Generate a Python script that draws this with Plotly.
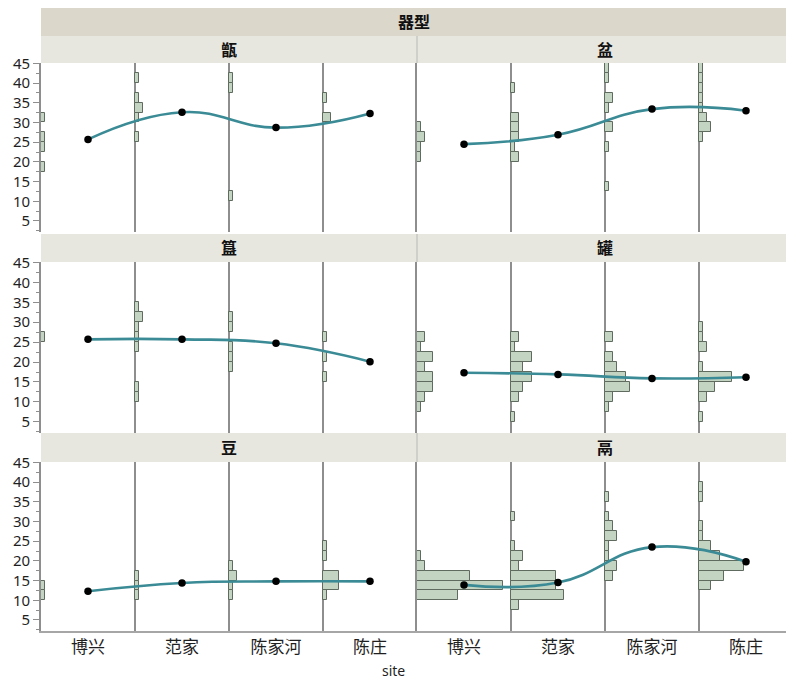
import plotly.graph_objects as go

# ---------------- data ----------------
sites = ["博兴", "范家", "陈家河", "陈庄"]
vessel_types = ["甑", "盆", "簋", "罐", "豆", "鬲"]
group_title = "器型"
x_title = "site"

# histogram bins (lower edges), width 2.5
bin_lows = [5, 7.5, 10, 12.5, 15, 17.5, 20, 22.5, 25, 27.5, 30, 32.5, 35, 37.5, 40, 42.5]
bin_width = 2.5
y_ticks = [5, 10, 15, 20, 25, 30, 35, 40, 45]

# counts per bin, one row per site (博兴, 范家, 陈家河, 陈庄)
counts_zeng = [
    [0, 0, 0, 0, 0, 1, 0, 1, 1, 0, 1, 0, 0, 0, 0, 0],
    [0, 0, 0, 0, 0, 0, 0, 0, 1, 0, 1, 2, 1, 0, 1, 0],
    [0, 0, 1, 0, 0, 0, 0, 0, 0, 0, 0, 0, 0, 1, 1, 0],
    [0, 0, 0, 0, 0, 0, 0, 0, 0, 0, 2, 0, 1, 0, 0, 0],
]
counts_pen = [
    [0, 0, 0, 0, 0, 0, 1, 1, 2, 1, 0, 0, 0, 0, 0, 0],
    [0, 0, 0, 0, 0, 0, 2, 1, 2, 2, 2, 0, 0, 1, 0, 0],
    [0, 0, 0, 1, 0, 0, 0, 1, 0, 2, 0, 1, 2, 0, 1, 1],
    [0, 0, 0, 0, 0, 0, 0, 0, 1, 3, 2, 1, 1, 1, 1, 1],
]
counts_gui = [
    [0, 0, 0, 0, 0, 0, 0, 0, 1, 0, 0, 0, 0, 0, 0, 0],
    [0, 0, 1, 1, 0, 0, 0, 1, 1, 1, 2, 1, 0, 0, 0, 0],
    [0, 0, 0, 0, 0, 1, 1, 1, 0, 1, 1, 0, 0, 0, 0, 0],
    [0, 0, 0, 0, 1, 0, 1, 0, 1, 0, 0, 0, 0, 0, 0, 0],
]
counts_guan = [
    [0, 1, 2, 4, 4, 2, 4, 1, 2, 0, 0, 0, 0, 0, 0, 0],
    [1, 0, 2, 3, 5, 3, 5, 1, 2, 0, 0, 0, 0, 0, 0, 0],
    [0, 1, 2, 6, 5, 3, 2, 0, 2, 0, 0, 0, 0, 0, 0, 0],
    [1, 0, 2, 4, 8, 1, 0, 2, 1, 1, 0, 0, 0, 0, 0, 0],
]
counts_dou = [
    [0, 0, 1, 1, 0, 0, 0, 0, 0, 0, 0, 0, 0, 0, 0, 0],
    [0, 0, 1, 1, 1, 0, 0, 0, 0, 0, 0, 0, 0, 0, 0, 0],
    [0, 0, 1, 1, 2, 1, 0, 0, 0, 0, 0, 0, 0, 0, 0, 0],
    [0, 0, 1, 4, 4, 0, 1, 1, 0, 0, 0, 0, 0, 0, 0, 0],
]
counts_li = [
    [0, 0, 10, 21, 13, 2, 1, 0, 0, 0, 0, 0, 0, 0, 0, 0],
    [0, 2, 13, 11, 11, 2, 3, 1, 0, 0, 1, 0, 0, 0, 0, 0],
    [0, 0, 0, 0, 2, 3, 1, 1, 3, 2, 1, 0, 1, 0, 0, 0],
    [0, 0, 0, 3, 6, 11, 5, 3, 1, 1, 0, 0, 1, 1, 0, 0],
]

# site means
mean_zeng = [25.7, 32.6, 28.7, 32.3]
mean_pen = [24.5, 26.9, 33.4, 33.0]
mean_gui = [25.7, 25.7, 24.7, 20.1]
mean_guan = [17.3, 16.9, 15.9, 16.2]
mean_dou = [12.3, 14.4, 14.8, 14.8]
mean_li = [13.9, 14.5, 23.5, 19.8]

panel_counts = [counts_zeng, counts_pen, counts_gui, counts_guan, counts_dou, counts_li]
panel_means = [mean_zeng, mean_pen, mean_gui, mean_guan, mean_dou, mean_li]

# ---------------- layout geometry (pixels) ----------------
W, H = 786, 685
PANEL_X = [(41, 417), (417, 793)]          # nominal panel extents
ROW_Y = [(63, 232), (262, 433), (462, 631)]
HEADER_Y = [(36, 63), (234, 262), (433, 462)]
TOP_HEADER_Y = (8, 36)
SLOT = (PANEL_X[0][1] - PANEL_X[0][0]) / len(sites)   # width of one site slot
COUNT_PX = 4.1                                         # bar length per observation
Y_RANGE = [2.2, 45.1]

FONT = "Noto Sans, Noto Sans CJK SC, sans-serif"
TEXT = "#1f1f1f"
LINE_GRAY = "#8e8e8e"
HDR_MAIN = "#dbd8cb"
HDR_SUB = "#e8e7df"
BAR_FILL = "#c4d4c2"
BAR_EDGE = "#5e6b5e"
CURVE = "#3a8b95"


def fx(p):
    return p / W


def fy(p):
    return 1 - p / H


fig = go.Figure()
layout_axes = {}
shapes = []
annotations = []

for i, (name, counts, means) in enumerate(zip(vessel_types, panel_counts, panel_means)):
    row, col = divmod(i, 2)
    k = i + 1
    xa = "x" if k == 1 else f"x{k}"
    ya = "y" if k == 1 else f"y{k}"

    x0px, x1px = PANEL_X[col]
    x1_vis = min(x1px, W)
    x_lo = -0.5
    x_hi = x_lo + (x1_vis - x0px) / SLOT
    unit = COUNT_PX / SLOT

    # histograms, drawn to the right of each site slot's left edge
    for s, site_counts in enumerate(counts):
        ys = [lo + bin_width / 2 for lo, c in zip(bin_lows, site_counts) if c > 0]
        xs = [c * unit for c in site_counts if c > 0]
        fig.add_trace(go.Bar(
            orientation="h", y=ys, x=xs, base=s - 0.5, width=bin_width,
            marker=dict(color=BAR_FILL, line=dict(color=BAR_EDGE, width=1)),
            xaxis=xa, yaxis=ya, showlegend=False, hoverinfo="skip",
        ))

    # smoother through the means
    fig.add_trace(go.Scatter(
        x=list(range(len(sites))), y=means, mode="lines",
        line=dict(color=CURVE, width=2.6, shape="spline", smoothing=1.3),
        xaxis=xa, yaxis=ya, showlegend=False, hoverinfo="skip",
    ))
    fig.add_trace(go.Scatter(
        x=list(range(len(sites))), y=means, mode="markers",
        marker=dict(color="black", size=7.5),
        xaxis=xa, yaxis=ya, showlegend=False, hoverinfo="skip",
    ))

    r0, r1 = ROW_Y[row]
    bottom = row == 2
    layout_axes["xaxis" if k == 1 else f"xaxis{k}"] = dict(
        domain=[fx(x0px), fx(x1_vis)], range=[x_lo, x_hi], anchor=ya,
        type="linear", tickmode="array", tickvals=list(range(len(sites))),
        ticktext=sites, showticklabels=bottom, ticks="",
        tickfont=dict(family=FONT, size=17, color=TEXT),
        showgrid=False, zeroline=False, automargin=False,
        showline=bottom, linecolor="#a6a6a6", linewidth=1.5,
        minor=dict(tickmode="array", tickvals=[s - 0.5 for s in range(len(sites) + 1)],
                   showgrid=True, gridcolor=LINE_GRAY, gridwidth=1.6, ticks=""),
        fixedrange=True,
    )
    layout_axes["yaxis" if k == 1 else f"yaxis{k}"] = dict(
        domain=[fy(r1), fy(r0)], range=Y_RANGE, anchor=xa,
        tickmode="array", tickvals=y_ticks, showticklabels=(col == 0),
        ticks="outside" if col == 0 else "", ticklen=6, tickcolor=LINE_GRAY, tickwidth=1,
        tickfont=dict(family=FONT, size=15, color=TEXT),
        minor=dict(tickmode="linear", tick0=2.5, dtick=5,
                   ticks="outside" if col == 0 else "", ticklen=3, tickcolor=LINE_GRAY),
        showgrid=False, zeroline=False, automargin=False,
        showline=True, linecolor=LINE_GRAY, linewidth=1.6,
        fixedrange=True,
    )

    # panel header strip
    h0, h1 = HEADER_Y[row]
    sx0 = x0px if col == 0 else x0px + 1
    sx1 = x1px - 1 if col == 0 else W
    shapes.append(dict(type="rect", xref="paper", yref="paper",
                       x0=fx(sx0), x1=fx(sx1), y0=fy(h1), y1=fy(h0),
                       fillcolor=HDR_SUB, line=dict(width=0), layer="below"))
    annotations.append(dict(text=name, xref="paper", yref="paper",
                            x=fx((x0px + x1px) / 2), y=fy((h0 + h1) / 2),
                            showarrow=False, xanchor="center", yanchor="middle",
                            font=dict(family=FONT, size=16, color="#111111", weight="bold")))

# gaps between left/right header strips
for h0, h1 in HEADER_Y:
    shapes.append(dict(type="rect", xref="paper", yref="paper",
                       x0=fx(416), x1=fx(418), y0=fy(h1), y1=fy(h0),
                       fillcolor="#d0d0ca", line=dict(width=0), layer="below"))

# top-level group header
shapes.append(dict(type="rect", xref="paper", yref="paper",
                   x0=fx(41), x1=1, y0=fy(TOP_HEADER_Y[1]), y1=fy(TOP_HEADER_Y[0]),
                   fillcolor=HDR_MAIN, line=dict(width=0), layer="below"))
annotations.append(dict(text=group_title, xref="paper", yref="paper",
                        x=fx((41 + W) / 2), y=fy(sum(TOP_HEADER_Y) / 2),
                        showarrow=False, xanchor="center", yanchor="middle",
                        font=dict(family=FONT, size=16, color="#111111", weight="bold")))

annotations.append(dict(text=x_title, xref="paper", yref="paper",
                        x=fx(393.5), y=fy(670), showarrow=False,
                        xanchor="center", yanchor="middle",
                        font=dict(family=FONT, size=14, color=TEXT)))

fig.update_layout(
    width=W, height=H,
    margin=dict(l=0, r=0, t=0, b=0, pad=0, autoexpand=False),
    paper_bgcolor="white", plot_bgcolor="white",
    barmode="overlay", bargap=0,
    shapes=shapes, annotations=annotations,
    showlegend=False,
    **layout_axes,
)

fig.write_html("out.html")
